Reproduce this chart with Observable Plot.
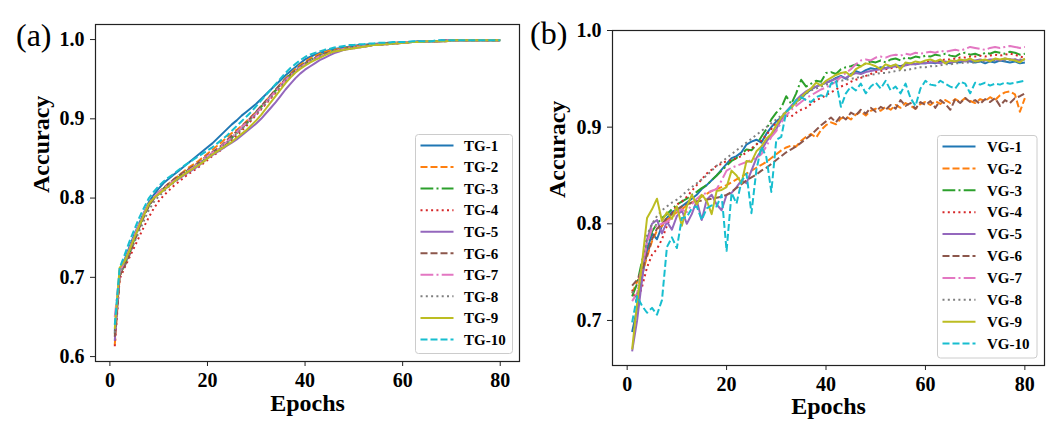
<!DOCTYPE html>
<html>
<head>
<meta charset="utf-8">
<script src="https://cdn.jsdelivr.net/npm/d3@7"></script>
<script src="https://cdn.jsdelivr.net/npm/@observablehq/plot@0.6"></script>
<style>
  body { margin: 0; background: #fff; }
  #fig { position: relative; width: 1063px; height: 442px; font-family: "Liberation Serif", "Times New Roman", serif; }
  .panel { position: absolute; top: 0; }
  .panel svg text { font-family: "Liberation Serif", "Times New Roman", serif; font-weight: bold; }
  .panel svg g[aria-label$="tick label"] { font-size: 20px; }
  .tag { position: absolute; font-size: 32px; line-height: 1; }
  .legend { position: absolute; }
</style>
</head>
<body>
<div id="fig">
  <div id="pa" class="panel" style="left:0"></div>
  <div id="pb" class="panel" style="left:530px"></div>
</div>
<script>
// epochs 1..80
const epochs = d3.range(1, 81);
const xTicks = [0, 20, 40, 60, 80];
const yTicksA = [0.6, 0.7, 0.8, 0.9, 1.0];
const yTicksB = [0.7, 0.8, 0.9, 1.0];

const colors = ["#1f77b4", "#ff7f0e", "#2ca02c", "#d62728", "#9467bd",
                "#8c564b", "#e377c2", "#7f7f7f", "#bcbd22", "#17becf"];
// solid, dashed, dash-dot, dotted (matplotlib cycle)
const dashes = [null, "7,3", "12.8,3.2,2,3.2", "2,3.3", null, "7,3", "12.8,3.2,2,3.2", "2,3.3", null, "7,3"];

const tgNames = ["TG-1", "TG-2", "TG-3", "TG-4", "TG-5", "TG-6", "TG-7", "TG-8", "TG-9", "TG-10"];
const vgNames = ["VG-1", "VG-2", "VG-3", "VG-4", "VG-5", "VG-6", "VG-7", "VG-8", "VG-9", "VG-10"];

// ---- (a) training accuracy ----
const tg1 = [0.632, 0.708, 0.722, 0.738, 0.754, 0.768, 0.782, 0.795, 0.804, 0.812,
  0.819, 0.824, 0.829, 0.834, 0.839, 0.844, 0.849, 0.854, 0.859, 0.864,
  0.869, 0.875, 0.881, 0.887, 0.893, 0.898, 0.904, 0.909, 0.914, 0.919,
  0.925, 0.931, 0.937, 0.943, 0.949, 0.955, 0.960, 0.965, 0.970, 0.975,
  0.978, 0.981, 0.983, 0.985, 0.987, 0.988, 0.989, 0.990, 0.991, 0.992,
  0.993, 0.993, 0.994, 0.994, 0.995, 0.995, 0.996, 0.996, 0.996, 0.997,
  0.997, 0.997, 0.998, 0.998, 0.998, 0.998, 0.998, 0.999, 0.999, 0.999,
  0.999, 0.999, 0.999, 0.999, 0.999, 0.999, 0.999, 0.999, 0.999, 0.999];
const tg2 = [0.615, 0.700, 0.718, 0.734, 0.750, 0.765, 0.779, 0.792, 0.800, 0.807,
  0.813, 0.818, 0.823, 0.828, 0.833, 0.838, 0.842, 0.846, 0.851, 0.856,
  0.861, 0.866, 0.871, 0.877, 0.882, 0.886, 0.891, 0.897, 0.903, 0.909,
  0.916, 0.923, 0.930, 0.937, 0.944, 0.951, 0.957, 0.963, 0.968, 0.972,
  0.976, 0.979, 0.982, 0.984, 0.986, 0.987, 0.988, 0.989, 0.990, 0.991,
  0.992, 0.993, 0.993, 0.994, 0.994, 0.995, 0.995, 0.996, 0.996, 0.996,
  0.997, 0.997, 0.997, 0.998, 0.998, 0.998, 0.998, 0.998, 0.999, 0.999,
  0.999, 0.999, 0.999, 0.999, 0.999, 0.999, 0.999, 0.999, 0.999, 0.999];
const tg3 = [0.628, 0.703, 0.716, 0.730, 0.748, 0.764, 0.778, 0.791, 0.800, 0.806,
  0.812, 0.817, 0.822, 0.826, 0.831, 0.835, 0.839, 0.843, 0.847, 0.852,
  0.856, 0.860, 0.865, 0.870, 0.876, 0.882, 0.888, 0.894, 0.901, 0.908,
  0.915, 0.922, 0.929, 0.936, 0.943, 0.950, 0.956, 0.961, 0.966, 0.970,
  0.974, 0.977, 0.980, 0.982, 0.984, 0.986, 0.987, 0.988, 0.989, 0.990,
  0.991, 0.992, 0.993, 0.993, 0.994, 0.994, 0.995, 0.995, 0.996, 0.996,
  0.997, 0.997, 0.997, 0.998, 0.998, 0.998, 0.998, 0.998, 0.999, 0.999,
  0.999, 0.999, 0.999, 0.999, 0.999, 0.999, 0.999, 0.999, 0.999, 0.999];
const tg4 = [0.613, 0.698, 0.712, 0.725, 0.738, 0.751, 0.764, 0.776, 0.787, 0.796,
  0.803, 0.809, 0.815, 0.820, 0.825, 0.830, 0.834, 0.838, 0.843, 0.848,
  0.853, 0.857, 0.862, 0.867, 0.873, 0.879, 0.885, 0.891, 0.898, 0.905,
  0.912, 0.919, 0.926, 0.933, 0.940, 0.947, 0.953, 0.959, 0.964, 0.969,
  0.973, 0.976, 0.979, 0.981, 0.983, 0.985, 0.986, 0.987, 0.988, 0.989,
  0.990, 0.991, 0.992, 0.993, 0.993, 0.994, 0.994, 0.995, 0.995, 0.996,
  0.996, 0.997, 0.997, 0.997, 0.998, 0.998, 0.998, 0.998, 0.998, 0.999,
  0.999, 0.999, 0.999, 0.999, 0.999, 0.999, 0.999, 0.999, 0.999, 0.999];
const tg5 = [0.620, 0.704, 0.720, 0.736, 0.752, 0.766, 0.780, 0.793, 0.800, 0.805,
  0.810, 0.815, 0.820, 0.824, 0.828, 0.832, 0.836, 0.840, 0.845, 0.850,
  0.854, 0.858, 0.862, 0.866, 0.870, 0.874, 0.879, 0.884, 0.889, 0.894,
  0.900, 0.907, 0.914, 0.921, 0.929, 0.937, 0.944, 0.951, 0.957, 0.962,
  0.966, 0.970, 0.974, 0.977, 0.980, 0.983, 0.985, 0.987, 0.988, 0.989,
  0.990, 0.991, 0.992, 0.993, 0.993, 0.994, 0.994, 0.995, 0.995, 0.996,
  0.996, 0.997, 0.997, 0.997, 0.998, 0.998, 0.998, 0.998, 0.998, 0.999,
  0.999, 0.999, 0.999, 0.999, 0.999, 0.999, 0.999, 0.999, 0.999, 0.999];
const tg6 = [0.625, 0.702, 0.714, 0.728, 0.745, 0.762, 0.777, 0.790, 0.799, 0.806,
  0.812, 0.818, 0.823, 0.828, 0.832, 0.836, 0.840, 0.844, 0.849, 0.854,
  0.858, 0.862, 0.867, 0.873, 0.879, 0.884, 0.890, 0.896, 0.902, 0.909,
  0.916, 0.923, 0.930, 0.937, 0.944, 0.950, 0.956, 0.961, 0.966, 0.970,
  0.974, 0.977, 0.980, 0.982, 0.984, 0.986, 0.987, 0.988, 0.989, 0.990,
  0.991, 0.992, 0.993, 0.993, 0.994, 0.994, 0.995, 0.995, 0.996, 0.996,
  0.997, 0.997, 0.997, 0.998, 0.998, 0.998, 0.998, 0.998, 0.999, 0.999,
  0.999, 0.999, 0.999, 0.999, 0.999, 0.999, 0.999, 0.999, 0.999, 0.999];
const tg7 = [0.650, 0.706, 0.720, 0.735, 0.752, 0.767, 0.781, 0.794, 0.801, 0.807,
  0.812, 0.817, 0.821, 0.825, 0.830, 0.834, 0.838, 0.843, 0.848, 0.853,
  0.857, 0.861, 0.866, 0.871, 0.877, 0.883, 0.889, 0.895, 0.901, 0.907,
  0.914, 0.921, 0.928, 0.935, 0.942, 0.949, 0.955, 0.960, 0.965, 0.969,
  0.973, 0.976, 0.979, 0.981, 0.983, 0.985, 0.987, 0.988, 0.989, 0.990,
  0.991, 0.992, 0.993, 0.993, 0.994, 0.994, 0.995, 0.995, 0.996, 0.996,
  0.997, 0.997, 0.997, 0.998, 0.998, 0.998, 0.998, 0.998, 0.999, 0.999,
  0.999, 0.999, 0.999, 0.999, 0.999, 0.999, 0.999, 0.999, 0.999, 0.999];
const tg8 = [0.630, 0.703, 0.716, 0.730, 0.744, 0.758, 0.772, 0.785, 0.795, 0.802,
  0.808, 0.814, 0.819, 0.824, 0.829, 0.833, 0.837, 0.842, 0.847, 0.852,
  0.856, 0.860, 0.865, 0.870, 0.875, 0.881, 0.887, 0.893, 0.899, 0.906,
  0.913, 0.920, 0.927, 0.934, 0.941, 0.948, 0.954, 0.960, 0.965, 0.969,
  0.973, 0.976, 0.979, 0.981, 0.983, 0.985, 0.987, 0.988, 0.989, 0.990,
  0.991, 0.992, 0.993, 0.993, 0.994, 0.994, 0.995, 0.995, 0.996, 0.996,
  0.997, 0.997, 0.997, 0.998, 0.998, 0.998, 0.998, 0.998, 0.999, 0.999,
  0.999, 0.999, 0.999, 0.999, 0.999, 0.999, 0.999, 0.999, 0.999, 0.999];
const tg9 = [0.635, 0.712, 0.720, 0.734, 0.750, 0.765, 0.779, 0.793, 0.800, 0.805,
  0.810, 0.815, 0.820, 0.825, 0.829, 0.833, 0.837, 0.841, 0.845, 0.850,
  0.855, 0.859, 0.863, 0.867, 0.871, 0.876, 0.881, 0.886, 0.892, 0.898,
  0.905, 0.913, 0.921, 0.929, 0.937, 0.945, 0.952, 0.958, 0.963, 0.967,
  0.971, 0.974, 0.977, 0.980, 0.983, 0.985, 0.986, 0.987, 0.988, 0.989,
  0.990, 0.991, 0.992, 0.993, 0.993, 0.994, 0.994, 0.995, 0.995, 0.996,
  0.996, 0.997, 0.997, 0.997, 0.998, 0.998, 0.998, 0.998, 0.998, 0.999,
  0.999, 0.999, 0.999, 0.999, 0.999, 0.999, 0.999, 0.999, 0.999, 0.999];
const tg10 = [0.640, 0.712, 0.728, 0.745, 0.760, 0.775, 0.788, 0.800, 0.808, 0.815,
  0.821, 0.826, 0.830, 0.835, 0.840, 0.844, 0.848, 0.852, 0.856, 0.860,
  0.864, 0.869, 0.874, 0.879, 0.885, 0.891, 0.897, 0.903, 0.909, 0.916,
  0.923, 0.930, 0.937, 0.944, 0.951, 0.958, 0.964, 0.969, 0.974, 0.978,
  0.981, 0.983, 0.985, 0.987, 0.988, 0.990, 0.991, 0.992, 0.993, 0.993,
  0.994, 0.994, 0.995, 0.995, 0.996, 0.996, 0.996, 0.997, 0.997, 0.997,
  0.997, 0.998, 0.998, 0.998, 0.998, 0.998, 0.999, 0.999, 0.999, 0.999,
  0.999, 0.999, 0.999, 0.999, 0.999, 0.999, 0.999, 0.999, 0.999, 0.999];

// ---- (b) validation accuracy ----
const vg1 = [0.688, 0.712, 0.745, 0.772, 0.790, 0.784, 0.798, 0.806, 0.812, 0.815,
  0.818, 0.822, 0.826, 0.830, 0.836, 0.840, 0.845, 0.850, 0.856, 0.862,
  0.868, 0.870, 0.874, 0.882, 0.885, 0.887, 0.884, 0.893, 0.900, 0.906,
  0.910, 0.916, 0.921, 0.926, 0.930, 0.935, 0.939, 0.942, 0.944, 0.946,
  0.948, 0.951, 0.953, 0.950, 0.955, 0.958, 0.956, 0.959, 0.961, 0.960,
  0.962, 0.961, 0.963, 0.964, 0.963, 0.965, 0.966, 0.965, 0.966, 0.966,
  0.967, 0.966, 0.968, 0.967, 0.966, 0.968, 0.967, 0.969, 0.968, 0.967,
  0.968, 0.966, 0.968, 0.967, 0.969, 0.968, 0.967, 0.968, 0.966, 0.967];
const vg2 = [0.728, 0.740, 0.748, 0.766, 0.782, 0.793, 0.798, 0.804, 0.808, 0.812,
  0.815, 0.819, 0.822, 0.825, 0.828, 0.831, 0.834, 0.836, 0.838, 0.840,
  0.843, 0.846, 0.849, 0.852, 0.855, 0.858, 0.861, 0.864, 0.868, 0.872,
  0.876, 0.879, 0.881, 0.880, 0.886, 0.890, 0.893, 0.889, 0.897, 0.902,
  0.905, 0.903, 0.909, 0.911, 0.908, 0.913, 0.916, 0.912, 0.917, 0.919,
  0.917, 0.921, 0.918, 0.923, 0.920, 0.925, 0.922, 0.919, 0.924, 0.926,
  0.923, 0.927, 0.924, 0.928, 0.925, 0.929, 0.926, 0.930, 0.927, 0.925,
  0.929, 0.927, 0.931, 0.928, 0.933, 0.936, 0.937, 0.934, 0.916, 0.930];
const vg3 = [0.725, 0.738, 0.762, 0.778, 0.792, 0.800, 0.806, 0.810, 0.815, 0.820,
  0.823, 0.826, 0.830, 0.833, 0.837, 0.840, 0.845, 0.850, 0.855, 0.860,
  0.865, 0.868, 0.872, 0.877, 0.876, 0.882, 0.890, 0.898, 0.908, 0.915,
  0.920, 0.932, 0.924, 0.935, 0.949, 0.942, 0.945, 0.948, 0.947, 0.956,
  0.957, 0.955, 0.960, 0.962, 0.963, 0.965, 0.963, 0.966, 0.968, 0.967,
  0.969, 0.967, 0.970, 0.971, 0.969, 0.972, 0.971, 0.973, 0.972, 0.974,
  0.973, 0.975, 0.974, 0.976, 0.974, 0.973, 0.976, 0.977, 0.975, 0.976,
  0.974, 0.977, 0.976, 0.978, 0.977, 0.976, 0.978, 0.977, 0.975, 0.976];
const vg4 = [0.732, 0.718, 0.735, 0.755, 0.768, 0.774, 0.784, 0.798, 0.810, 0.820,
  0.823, 0.828, 0.834, 0.840, 0.846, 0.852, 0.856, 0.860, 0.862, 0.865,
  0.866, 0.868, 0.870, 0.874, 0.878, 0.882, 0.886, 0.892, 0.898, 0.905,
  0.908, 0.912, 0.911, 0.915, 0.918, 0.920, 0.924, 0.928, 0.930, 0.933,
  0.936, 0.939, 0.942, 0.944, 0.947, 0.949, 0.951, 0.953, 0.955, 0.957,
  0.958, 0.960, 0.961, 0.962, 0.963, 0.964, 0.965, 0.966, 0.966, 0.967,
  0.968, 0.968, 0.969, 0.970, 0.970, 0.971, 0.972, 0.972, 0.973, 0.973,
  0.974, 0.973, 0.974, 0.975, 0.974, 0.975, 0.976, 0.975, 0.973, 0.972];
const vg5 = [0.668, 0.700, 0.742, 0.784, 0.800, 0.804, 0.790, 0.802, 0.794, 0.808,
  0.814, 0.800, 0.810, 0.824, 0.804, 0.825, 0.830, 0.820, 0.814, 0.830,
  0.832, 0.838, 0.845, 0.842, 0.855, 0.868, 0.876, 0.885, 0.892, 0.898,
  0.908, 0.916, 0.922, 0.928, 0.933, 0.937, 0.940, 0.942, 0.944, 0.946,
  0.948, 0.950, 0.952, 0.951, 0.954, 0.956, 0.955, 0.957, 0.958, 0.959,
  0.960, 0.961, 0.962, 0.963, 0.962, 0.964, 0.965, 0.965, 0.966, 0.966,
  0.967, 0.967, 0.966, 0.968, 0.967, 0.968, 0.969, 0.968, 0.969, 0.969,
  0.970, 0.969, 0.970, 0.970, 0.969, 0.971, 0.970, 0.970, 0.969, 0.970];
const vg6 = [0.736, 0.742, 0.752, 0.768, 0.784, 0.795, 0.800, 0.806, 0.810, 0.814,
  0.818, 0.820, 0.822, 0.823, 0.824, 0.825, 0.826, 0.827, 0.828, 0.830,
  0.833, 0.837, 0.841, 0.845, 0.848, 0.851, 0.855, 0.858, 0.862, 0.866,
  0.870, 0.874, 0.877, 0.880, 0.884, 0.888, 0.892, 0.897, 0.902, 0.906,
  0.910, 0.905, 0.912, 0.908, 0.915, 0.912, 0.918, 0.914, 0.920, 0.916,
  0.921, 0.918, 0.923, 0.919, 0.928, 0.922, 0.925, 0.919, 0.926, 0.923,
  0.927, 0.920, 0.928, 0.924, 0.918, 0.929, 0.925, 0.930, 0.926, 0.928,
  0.924, 0.929, 0.926, 0.930, 0.922, 0.928, 0.925, 0.930, 0.932, 0.935];
const vg7 = [0.720, 0.728, 0.758, 0.780, 0.795, 0.798, 0.800, 0.802, 0.806, 0.812,
  0.815, 0.812, 0.820, 0.826, 0.830, 0.832, 0.834, 0.836, 0.845, 0.855,
  0.858, 0.860, 0.862, 0.864, 0.866, 0.868, 0.872, 0.880, 0.890, 0.896,
  0.905, 0.912, 0.918, 0.922, 0.926, 0.930, 0.933, 0.936, 0.939, 0.941,
  0.944, 0.947, 0.952, 0.956, 0.960, 0.965, 0.969, 0.970, 0.969, 0.972,
  0.973, 0.972, 0.974, 0.975, 0.974, 0.976, 0.975, 0.977, 0.976, 0.977,
  0.978, 0.977, 0.979, 0.978, 0.979, 0.980, 0.979, 0.981, 0.983, 0.982,
  0.981, 0.980, 0.982, 0.983, 0.982, 0.983, 0.984, 0.983, 0.982, 0.983];
const vg8 = [0.730, 0.724, 0.758, 0.788, 0.800, 0.808, 0.814, 0.818, 0.822, 0.825,
  0.829, 0.834, 0.838, 0.842, 0.846, 0.850, 0.855, 0.860, 0.864, 0.868,
  0.872, 0.876, 0.880, 0.884, 0.888, 0.892, 0.896, 0.900, 0.904, 0.908,
  0.912, 0.916, 0.920, 0.925, 0.930, 0.935, 0.938, 0.940, 0.942, 0.944,
  0.945, 0.947, 0.948, 0.949, 0.950, 0.951, 0.952, 0.953, 0.954, 0.955,
  0.956, 0.956, 0.957, 0.958, 0.959, 0.959, 0.960, 0.961, 0.962, 0.962,
  0.963, 0.963, 0.964, 0.965, 0.965, 0.966, 0.966, 0.967, 0.967, 0.967,
  0.968, 0.968, 0.968, 0.969, 0.969, 0.969, 0.970, 0.970, 0.970, 0.970];
const vg9 = [0.670, 0.718, 0.760, 0.806, 0.815, 0.826, 0.803, 0.812, 0.805, 0.818,
  0.798, 0.818, 0.830, 0.820, 0.830, 0.824, 0.810, 0.834, 0.835, 0.838,
  0.855, 0.850, 0.842, 0.865, 0.864, 0.875, 0.880, 0.888, 0.893, 0.902,
  0.910, 0.916, 0.920, 0.926, 0.931, 0.936, 0.940, 0.946, 0.943, 0.948,
  0.951, 0.954, 0.956, 0.957, 0.953, 0.960, 0.963, 0.966, 0.965, 0.963,
  0.960, 0.965, 0.963, 0.965, 0.960, 0.967, 0.966, 0.968, 0.967, 0.969,
  0.970, 0.968, 0.970, 0.966, 0.969, 0.968, 0.970, 0.969, 0.971, 0.968,
  0.969, 0.970, 0.968, 0.971, 0.970, 0.971, 0.970, 0.969, 0.967, 0.971];
const vg10 = [0.698, 0.725, 0.715, 0.708, 0.713, 0.706, 0.721, 0.776, 0.786, 0.775,
  0.806, 0.807, 0.816, 0.818, 0.804, 0.816, 0.819, 0.818, 0.830, 0.772,
  0.832, 0.821, 0.844, 0.852, 0.811, 0.856, 0.880, 0.869, 0.833, 0.887,
  0.890, 0.916, 0.921, 0.928, 0.931, 0.928, 0.926, 0.931, 0.933, 0.931,
  0.945, 0.948, 0.921, 0.935, 0.942, 0.938, 0.945, 0.935, 0.942, 0.946,
  0.940, 0.948, 0.938, 0.942, 0.935, 0.945, 0.930, 0.922, 0.940, 0.948,
  0.944, 0.943, 0.948, 0.945, 0.942, 0.940, 0.947, 0.945, 0.935, 0.946,
  0.944, 0.946, 0.943, 0.945, 0.944, 0.946, 0.945, 0.946, 0.947, 0.948];

const tgSeries = [tg1, tg2, tg3, tg4, tg5, tg6, tg7, tg8, tg9, tg10];
const vgSeries = [vg1, vg2, vg3, vg4, vg5, vg6, vg7, vg8, vg9, vg10];

function panel({series, yDomain, yTicks, width, margins, labelDx, labelDy}) {
  return Plot.plot({
    width,
    height: 442,
    ...margins,
    style: {fontFamily: "Liberation Serif, Times New Roman, serif", fontSize: "20px", color: "#000", background: "#fff"},
    x: {domain: [-2.95, 83.95]},
    y: {domain: yDomain},
    marks: [
      ...series.map((vals, i) => Plot.line(vals, {
        x: (d, j) => epochs[j],
        y: (d) => d,
        stroke: colors[i],
        strokeWidth: 2,
        strokeDasharray: dashes[i],
        strokeLinecap: "butt"
      })),
      Plot.frame({stroke: "#222", strokeWidth: 1.2}),
      Plot.axisX({ticks: xTicks, tickSize: 5, tickPadding: 6, fontSize: 20, fontWeight: "bold", label: null, stroke: "#222"}),
      Plot.axisY({ticks: yTicks, tickFormat: ".1f", tickSize: 5, tickPadding: 6, fontSize: 20, fontWeight: "bold", label: null, stroke: "#222"}),
      Plot.text(["Accuracy"], {frameAnchor: "left", rotate: -90, dx: -labelDx, fontSize: 24, fontWeight: "bold"}),
      Plot.text(["Epochs"], {frameAnchor: "bottom", dy: labelDy, fontSize: 24, fontWeight: "bold"})
    ]
  });
}

function legend(container, names, {left, top, w, h, gap, textX}) {
  const svg = d3.select(container).append("svg")
    .attr("class", "legend")
    .attr("width", w + 2).attr("height", h + 2)
    .style("left", left + "px").style("top", top + "px");
  svg.append("rect").attr("x", 0.5).attr("y", 0.5).attr("width", w).attr("height", h)
    .attr("rx", 3).attr("fill", "#fff").attr("fill-opacity", 0.8).attr("stroke", "#cccccc");
  names.forEach((n, i) => {
    const y = 11.5 + i * gap;
    svg.append("line").attr("x1", 5.5).attr("x2", 38.5).attr("y1", y).attr("y2", y)
      .attr("stroke", colors[i]).attr("stroke-width", 2)
      .attr("stroke-dasharray", dashes[i]);
    svg.append("text").attr("x", textX).attr("y", y).attr("dy", "0.35em")
      .attr("font-family", "Liberation Serif, Times New Roman, serif")
      .attr("font-weight", "bold").attr("font-size", 15).text(n);
  });
}

const pa = document.getElementById("pa");
const pb = document.getElementById("pb");

pa.append(panel({
  series: tgSeries, yDomain: [0.5938, 1.019], yTicks: yTicksA, width: 530,
  margins: {marginLeft: 95, marginRight: 11, marginTop: 24, marginBottom: 81},
  labelDx: 54, labelDy: 49
}));
pb.append(panel({
  series: vgSeries, yDomain: [0.6534, 1.0], yTicks: yTicksB, width: 533,
  margins: {marginLeft: 82, marginRight: 19, marginTop: 30, marginBottom: 77},
  labelDx: 55, labelDy: 48
}));

legend(pa, tgNames, {left: 415, top: 134, w: 97, h: 219, gap: 21.55, textX: 49});
legend(pb, vgNames, {left: 406.5, top: 135, w: 99.5, h: 222.5, gap: 21.9, textX: 50});

const ta = document.createElement("div");
ta.className = "tag"; ta.textContent = "(a)"; ta.style.left = "16px"; ta.style.top = "19px";
pa.append(ta);
const tb = document.createElement("div");
tb.className = "tag"; tb.textContent = "(b)"; tb.style.left = "0px"; tb.style.top = "17px";
pb.append(tb);
</script>
</body>
</html>
